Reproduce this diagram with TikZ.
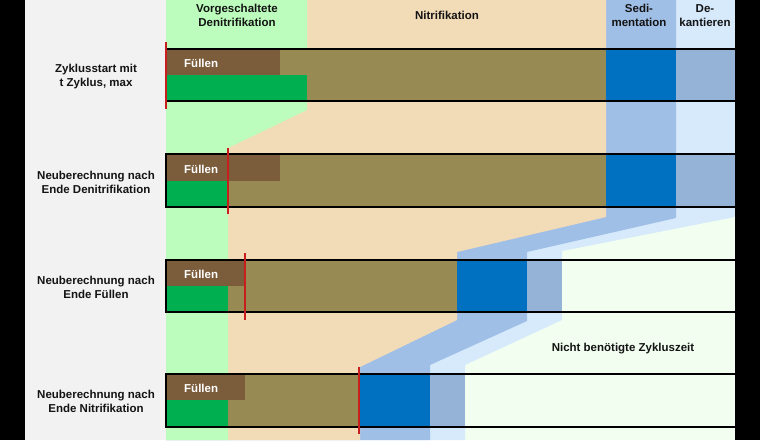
\documentclass[tikz,border=0pt]{standalone}
\usepackage{fontspec}
\setmainfont{Liberation Sans}
\definecolor{panelgray}{RGB}{242,242,242}
\definecolor{denibg}{RGB}{188,252,188}
\definecolor{nitribg}{RGB}{242,220,184}
\definecolor{sedibg}{RGB}{160,191,230}
\definecolor{dekabg}{RGB}{214,234,252}
\definecolor{freebg}{RGB}{242,255,240}
\definecolor{fillbrown}{RGB}{123,92,59}
\definecolor{denigreen}{RGB}{0,176,80}
\definecolor{nitriolive}{RGB}{151,138,82}
\definecolor{sediblue}{RGB}{0,112,192}
\definecolor{dekablue}{RGB}{149,179,215}
\definecolor{markred}{RGB}{200,30,30}
\definecolor{txtdark}{RGB}{20,20,20}
\begin{document}
\begin{tikzpicture}[x=1pt,y=-1pt,
  lbl/.style={font=\bfseries\fontsize{11.5}{14}\selectfont, align=center, inner sep=0pt, text=txtdark},
  filllbl/.style={font=\bfseries\fontsize{11.5}{14}\selectfont, inner sep=0pt, text=white, anchor=west},
  barframe/.style={draw=black, line width=2pt},
  marker/.style={draw=markred, line width=2pt}]
\useasboundingbox (0,0) rectangle (760,440);
% side panel
\fill[panelgray] (25,0) rectangle (166,440);
% phase background columns (right to left layering)
\fill[freebg] (166,0) rectangle (735,440);
\fill[dekabg] (166,0) -- (740,0) -- (740,216) -- (562,251) -- (562,320) -- (465,365) -- (465,440) -- (166,440) -- cycle;
\fill[sedibg] (166,0) -- (676,0) -- (676,218) -- (527,252) -- (527,321) -- (430,365) -- (430,440) -- (166,440) -- cycle;
\fill[nitribg] (166,0) -- (606,0) -- (606,217) -- (457,252) -- (457,320) -- (360,367) -- (360,440) -- (166,440) -- cycle;
\fill[denibg] (166,0) -- (307,0) -- (307,110) -- (228,148) -- (228,440) -- (166,440) -- cycle;
% bar 1
\fill[nitriolive] (166,49) rectangle (606,101);
\fill[fillbrown] (166,49) rectangle (280,75);
\fill[denigreen] (166,75) rectangle (307,101);
\fill[sediblue] (606,49) rectangle (676,101);
\fill[dekablue] (676,49) rectangle (740,101);
\draw[barframe] (166,49) rectangle (745,101);
% bar 2
\fill[nitriolive] (166,154) rectangle (606,207);
\fill[fillbrown] (166,154) rectangle (280,181);
\fill[denigreen] (166,181) rectangle (228,207);
\fill[sediblue] (606,154) rectangle (676,207);
\fill[dekablue] (676,154) rectangle (740,207);
\draw[barframe] (166,154) rectangle (745,207);
% bar 3
\fill[freebg] (166,260) rectangle (740,312);
\fill[nitriolive] (166,260) rectangle (457,312);
\fill[fillbrown] (166,260) rectangle (245,286);
\fill[denigreen] (166,286) rectangle (228,312);
\fill[sediblue] (457,260) rectangle (527,312);
\fill[dekablue] (527,260) rectangle (562,312);
\draw[barframe] (166,260) rectangle (745,312);
% bar 4
\fill[freebg] (166,374) rectangle (740,427);
\fill[nitriolive] (166,374) rectangle (360,427);
\fill[fillbrown] (166,374) rectangle (245,400);
\fill[denigreen] (166,400) rectangle (228,427);
\fill[sediblue] (360,374) rectangle (430,427);
\fill[dekablue] (430,374) rectangle (465,427);
\draw[barframe] (166,374) rectangle (745,427);
% red markers
\coordinate (m1a) at (166,42); \coordinate (m1b) at (166,109);
\coordinate (m2a) at (228,148); \coordinate (m2b) at (228,214);
\coordinate (m3a) at (245,253); \coordinate (m3b) at (245,320);
\coordinate (m4a) at (359,367); \coordinate (m4b) at (359,434);
\draw[marker] (m1a) -- (m1b);
\draw[marker] (m2a) -- (m2b);
\draw[marker] (m3a) -- (m3b);
\draw[marker] (m4a) -- (m4b);
% black side bands
\fill[black] (0,0) rectangle (25,440);
\fill[black] (735,0) rectangle (760,440);
% header labels
\node[lbl] (hdeni) at (237,15.5) {Vorgeschaltete\\Denitrifikation};
\node[lbl] (hnitri) at (447,15.5) {Nitrifikation};
\node[lbl] (hsedi) at (639,15.5) {Sedi-\\mentation};
\node[lbl] (hdeka) at (705,15.5) {De-\\kantieren};
% row labels
\node[lbl] (r1) at (96,77) {Zyklusstart mit\\t Zyklus, max};
\node[lbl] (r2) at (96,182) {Neuberechnung nach\\Ende Denitrifikation};
\node[lbl] (r3) at (96,287) {Neuberechnung nach\\Ende Füllen};
\node[lbl] (r4) at (96,401) {Neuberechnung nach\\Ende Nitrifikation};
% Füllen labels
\node[filllbl] (f1) at (184,63) {Füllen};
\node[filllbl] (f2) at (184,169) {Füllen};
\node[filllbl] (f3) at (184,274) {Füllen};
\node[filllbl] (f4) at (184,388) {Füllen};
% free time
\node[lbl] (free) at (623,349) {Nicht benötigte Zykluszeit};
\end{tikzpicture}
\end{document}
